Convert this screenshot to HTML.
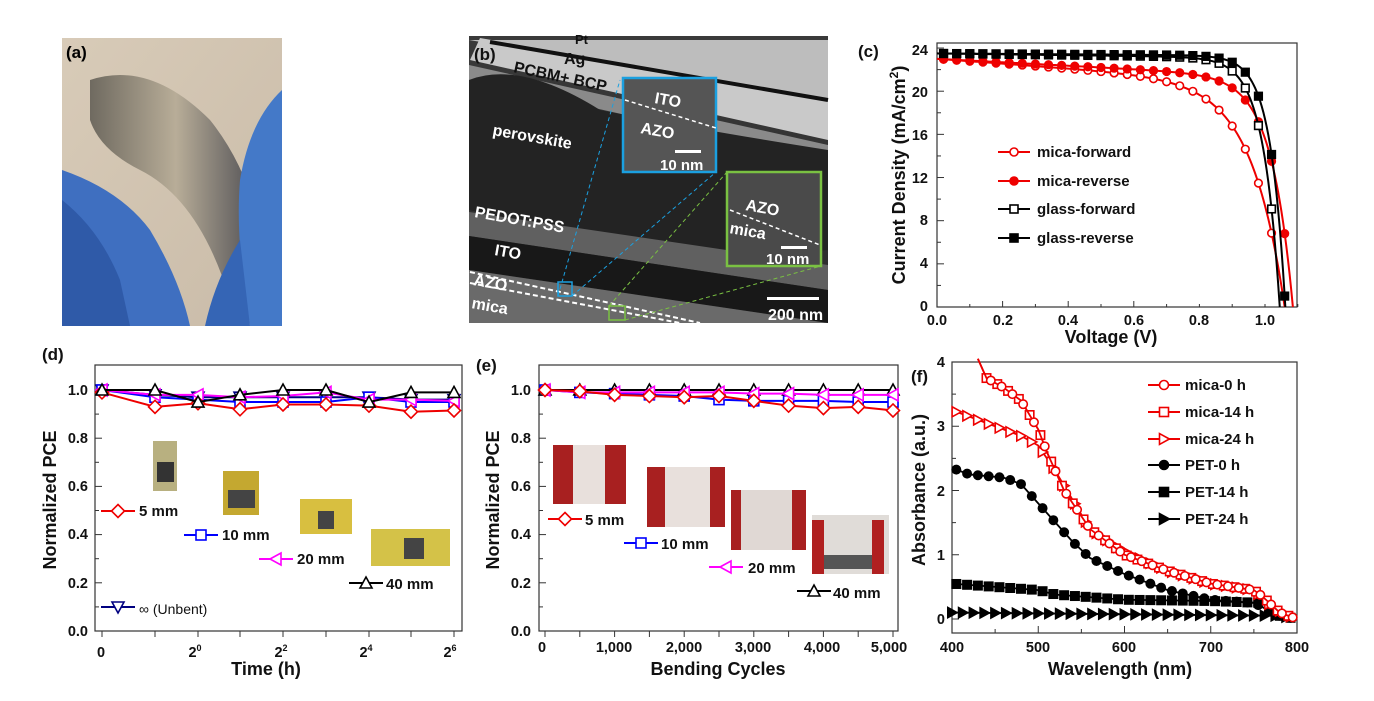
<!DOCTYPE html>
<html><head><meta charset="utf-8"><style>
html,body{margin:0;padding:0;background:#fff;}
svg{display:block;font-family:"Liberation Sans",Arial,sans-serif;font-weight:bold;}
</style></head><body>
<svg id="s" width="1374" height="701" viewBox="0 0 1374 701" xmlns="http://www.w3.org/2000/svg">
<defs>
<linearGradient id="bg" x1="0" y1="0" x2="1" y2="1"><stop offset="0" stop-color="#d8cbb8"/><stop offset="1" stop-color="#c9bba8"/></linearGradient>
<linearGradient id="film" x1="0" y1="0" x2="1" y2="0"><stop offset="0" stop-color="#6f6a60"/><stop offset="0.5" stop-color="#b8ad98"/><stop offset="1" stop-color="#4a4a50"/></linearGradient>
<linearGradient id="tem" x1="0" y1="0" x2="0" y2="1"><stop offset="0" stop-color="#3a3a3a"/><stop offset="1" stop-color="#2a2a2a"/></linearGradient>
</defs>
<!-- (a) photo -->
<rect x="62" y="38" width="220" height="288" fill="url(#bg)"/>
<path d="M90 80 Q150 60 210 120 Q250 170 262 240 L230 300 Q200 200 140 170 Q100 150 90 120Z" fill="url(#film)"/>
<path d="M62 170 Q120 190 150 230 Q180 280 190 326 L62 326Z" fill="#3f6fc0"/>
<path d="M62 200 Q100 230 120 280 L130 326 L62 326Z" fill="#2f5aa8"/>
<path d="M282 90 Q250 120 240 180 Q235 240 250 326 L282 326Z" fill="#4479c8"/>
<path d="M205 326 Q215 280 240 240 L250 326Z" fill="#3565b5"/>
<text x="66" y="58" font-size="17" fill="#000">(a)</text>
<!-- (b) TEM -->
<rect x="469" y="36" width="359" height="287" fill="url(#tem)"/>
<path d="M469 40 L828 40 L828 100 L469 40Z" fill="#bdbdbd"/>
<path d="M480 38 L828 98 L828 140 L470 60Z" fill="#c9c9c9"/>
<path d="M490 42 L828 100" stroke="#111" stroke-width="4"/>
<path d="M469 65 L828 145 L828 160 L469 80Z" fill="#8a8a8a"/>
<path d="M469 80 Q520 60 600 110 Q700 130 828 150 L828 250 Q700 260 640 240 Q560 230 469 210Z" fill="#232323"/>
<path d="M469 212 L828 265 L828 290 L469 236Z" fill="#606060"/>
<path d="M469 236 L828 290 L828 323 L469 270Z" fill="#181818"/>
<path d="M469 270 L828 323 L469 323Z" fill="#6a6a6a"/>
<path d="M470 272 L700 323 M470 283 L680 323" stroke="#fff" stroke-width="2" stroke-dasharray="5,3"/>
<rect x="623" y="78" width="93" height="94" fill="#555" stroke="#1ba0e0" stroke-width="2.5"/>
<path d="M625 100 L716 128" stroke="#fff" stroke-width="1.5" stroke-dasharray="4,3"/>
<rect x="727" y="172" width="94" height="94" fill="#4a4a4a" stroke="#7ac142" stroke-width="2.5"/>
<path d="M730 210 L820 245" stroke="#fff" stroke-width="1.5" stroke-dasharray="4,3"/>
<rect x="558" y="282" width="14" height="14" fill="none" stroke="#1ba0e0" stroke-width="1.5"/>
<rect x="609" y="306" width="16" height="14" fill="none" stroke="#7ac142" stroke-width="1.5"/>
<path d="M558 296 L620 80 M572 296 L716 172" stroke="#1ba0e0" stroke-width="1" stroke-dasharray="4,3"/>
<path d="M609 306 L727 172 M625 320 L821 266" stroke="#7ac142" stroke-width="1" stroke-dasharray="4,3"/>
<rect x="767" y="297" width="52" height="3" fill="#fff"/>
<g fill="#fff" font-size="16">
<text x="564" y="64" fill="#111">Ag</text>
<text x="575" y="44" fill="#111" font-size="13">Pt</text>
<text x="513" y="72" fill="#111" transform="rotate(12 513 72)">PCBM+ BCP</text>
<text x="492" y="135" transform="rotate(10 492 135)">perovskite</text>
<text x="474" y="217" transform="rotate(10 474 217)">PEDOT:PSS</text>
<text x="494" y="255" transform="rotate(10 494 255)">ITO</text>
<text x="473" y="285" transform="rotate(10 473 285)">AZO</text>
<text x="471" y="308" transform="rotate(10 471 308)">mica</text>
<text x="654" y="103" transform="rotate(10 654 103)">ITO</text>
<text x="640" y="133" transform="rotate(10 640 133)">AZO</text>
<rect x="675" y="150" width="26" height="3"/>
<text x="660" y="170" font-size="15">10 nm</text>
<text x="745" y="210" transform="rotate(10 745 210)">AZO</text>
<text x="729" y="233" transform="rotate(10 729 233)">mica</text>
<rect x="781" y="246" width="26" height="3"/>
<text x="766" y="264" font-size="15">10 nm</text>
<text x="768" y="320" font-size="16">200 nm</text>
</g>
<text x="474" y="60" font-size="17" fill="#111">(b)</text>
<!-- axes frames -->
<g fill="none" stroke="#333" stroke-width="1.2">
<rect x="937" y="43" width="360" height="264"/>
<rect x="95" y="365" width="367" height="266"/>
<rect x="539" y="365" width="359" height="266"/>
<rect x="952" y="362" width="345" height="271"/>
</g>
<g id="ticks" stroke="#333" stroke-width="1"></g>
<g id="data"></g>
<!-- photo insets (d) -->
<rect x="153" y="441" width="24" height="50" fill="#b8b080"/><rect x="157" y="462" width="17" height="20" fill="#333"/>
<rect x="223" y="471" width="36" height="44" fill="#c4a830"/><rect x="228" y="490" width="27" height="18" fill="#444"/>
<rect x="300" y="499" width="52" height="35" fill="#d8bf40"/><rect x="318" y="511" width="16" height="18" fill="#444"/>
<rect x="371" y="529" width="79" height="37" fill="#d4c248"/><rect x="404" y="538" width="20" height="21" fill="#444"/>
<!-- photo insets (e) -->
<rect x="553" y="445" width="73" height="59" fill="#e8e0dc"/><rect x="553" y="445" width="20" height="59" fill="#a82020"/><rect x="605" y="445" width="21" height="59" fill="#a82020"/>
<rect x="647" y="467" width="78" height="60" fill="#e8e0dc"/><rect x="647" y="467" width="18" height="60" fill="#a82020"/><rect x="710" y="467" width="15" height="60" fill="#a82020"/>
<rect x="731" y="490" width="75" height="60" fill="#e0d8d4"/><rect x="731" y="490" width="10" height="60" fill="#a82020"/><rect x="792" y="490" width="14" height="60" fill="#a82020"/>
<rect x="812" y="515" width="77" height="59" fill="#e0dcd8"/><rect x="812" y="520" width="12" height="54" fill="#b02020"/><rect x="872" y="520" width="12" height="54" fill="#b02020"/><rect x="824" y="555" width="48" height="14" fill="#555"/>
<!-- labels c -->
<g font-size="14.5" fill="#111">
<text x="928" y="55" text-anchor="end">24</text><text x="928" y="97" text-anchor="end">20</text><text x="928" y="140" text-anchor="end">16</text><text x="928" y="183" text-anchor="end">12</text><text x="928" y="225" text-anchor="end">8</text><text x="928" y="268" text-anchor="end">4</text><text x="928" y="311" text-anchor="end">0</text>
<g text-anchor="middle"><text x="937" y="325">0.0</text><text x="1003" y="325">0.2</text><text x="1068" y="325">0.4</text><text x="1134" y="325">0.6</text><text x="1199" y="325">0.8</text><text x="1265" y="325">1.0</text></g>
<text x="1111" y="343" font-size="18" text-anchor="middle">Voltage (V)</text>
<text transform="translate(905 175) rotate(-90)" font-size="18" text-anchor="middle">Current Density (mA/cm<tspan dy="-7" font-size="12">2</tspan><tspan dy="7">)</tspan></text>
<text x="858" y="57" font-size="17">(c)</text>
<g font-size="15"><text x="1037" y="157">mica-forward</text><text x="1037" y="186">mica-reverse</text><text x="1037" y="214">glass-forward</text><text x="1037" y="243">glass-reverse</text></g>
</g>
<!-- labels d -->
<g font-size="14.5" fill="#111">
<g text-anchor="end"><text x="88" y="395">1.0</text><text x="88" y="443">0.8</text><text x="88" y="491">0.6</text><text x="88" y="539">0.4</text><text x="88" y="588">0.2</text><text x="88" y="636">0.0</text></g>
<g text-anchor="middle"><text x="101" y="657">0</text><text x="195" y="657">2<tspan font-size="9" dy="-6">0</tspan></text><text x="281" y="657">2<tspan font-size="9" dy="-6">2</tspan></text><text x="366" y="657">2<tspan font-size="9" dy="-6">4</tspan></text><text x="450" y="657">2<tspan font-size="9" dy="-6">6</tspan></text></g>
<text x="266" y="675" font-size="18" text-anchor="middle">Time (h)</text>
<text transform="translate(56 500) rotate(-90)" font-size="18" text-anchor="middle">Normalized PCE</text>
<text x="42" y="360" font-size="17">(d)</text>
<g font-size="15"><text x="139" y="516">5 mm</text><text x="222" y="540">10 mm</text><text x="297" y="564">20 mm</text><text x="386" y="589">40 mm</text><text x="139" y="614" font-weight="normal" font-size="14">∞ (Unbent)</text></g>
</g>
<!-- labels e -->
<g font-size="14.5" fill="#111">
<g text-anchor="end"><text x="531" y="395">1.0</text><text x="531" y="443">0.8</text><text x="531" y="491">0.6</text><text x="531" y="539">0.4</text><text x="531" y="588">0.2</text><text x="531" y="636">0.0</text></g>
<g text-anchor="middle"><text x="542" y="652">0</text><text x="614" y="652">1,000</text><text x="684" y="652">2,000</text><text x="753" y="652">3,000</text><text x="822" y="652">4,000</text><text x="889" y="652">5,000</text></g>
<text x="718" y="675" font-size="18" text-anchor="middle">Bending Cycles</text>
<text transform="translate(499 500) rotate(-90)" font-size="18" text-anchor="middle">Normalized PCE</text>
<text x="476" y="371" font-size="17">(e)</text>
<g font-size="15"><text x="585" y="525">5 mm</text><text x="661" y="549">10 mm</text><text x="748" y="573">20 mm</text><text x="833" y="598">40 mm</text></g>
</g>
<!-- labels f -->
<g font-size="14.5" fill="#111">
<g text-anchor="end"><text x="945" y="367">4</text><text x="945" y="431">3</text><text x="945" y="496">2</text><text x="945" y="560">1</text><text x="945" y="624">0</text></g>
<g text-anchor="middle"><text x="952" y="652">400</text><text x="1038" y="652">500</text><text x="1124" y="652">600</text><text x="1211" y="652">700</text><text x="1297" y="652">800</text></g>
<text x="1120" y="675" font-size="18" text-anchor="middle">Wavelength (nm)</text>
<text transform="translate(925 490) rotate(-90)" font-size="18" text-anchor="middle">Absorbance (a.u.)</text>
<text x="911" y="382" font-size="17">(f)</text>
<g font-size="15"><text x="1185" y="390">mica-0 h</text><text x="1185" y="417">mica-14 h</text><text x="1185" y="444">mica-24 h</text><text x="1185" y="470">PET-0 h</text><text x="1185" y="497">PET-14 h</text><text x="1185" y="524">PET-24 h</text></g>
</g>
</svg>
<script>
const NS="http://www.w3.org/2000/svg",D=document.getElementById('data'),T=document.getElementById('ticks');
function el(t,a,p){const e=document.createElementNS(NS,t);for(const k in a)e.setAttribute(k,a[k]);(p||D).appendChild(e);return e;}
function line(pts,c,w){el('polyline',{points:pts.map(p=>p.join(',')).join(' '),fill:'none',stroke:c,'stroke-width':w||2});}
function mk(x,y,type,c,fill,s){s=s||4.5;const f=fill?c:'#fff';const a={stroke:c,'stroke-width':1.6,fill:f};
 if(type=='o'){a.cx=x;a.cy=y;a.r=s;el('circle',a);}
 else if(type=='s'){a.x=x-s;a.y=y-s;a.width=2*s;a.height=2*s;el('rect',a);}
 else {let p;if(type=='d')p=[[x,y-s*1.3],[x+s*1.3,y],[x,y+s*1.3],[x-s*1.3,y]];
 if(type=='u')p=[[x,y-s*1.2],[x+s*1.2,y+s],[x-s*1.2,y+s]];
 if(type=='v')p=[[x,y+s*1.2],[x+s*1.2,y-s],[x-s*1.2,y-s]];
 if(type=='l')p=[[x-s*1.2,y],[x+s,y-s*1.2],[x+s,y+s*1.2]];
 if(type=='r')p=[[x+s*1.2,y],[x-s,y-s*1.2],[x-s,y+s*1.2]];
 a.points=p.map(q=>q.join(',')).join(' ');el('polygon',a);}}
// ticks
for(let v=0;v<=1.1;v+=0.1){const x=937+v*328;el('line',{x1:x,y1:307,x2:x,y2:v*10%2<0.5?301:304},T);}
for(let j=0;j<=24;j+=2){const y=307-j*10.79;el('line',{x1:937,y1:y,x2:j%4?941:944,y2:y},T);}
[[95,365,631,102,[102,155,198,240,283,326,369,411,454]],[539,365,631,545,null]].forEach(([x0,y0,y1,_,xs])=>{
 for(let v=0;v<=1;v+=0.1){const y=631-v*241;el('line',{x1:x0,y1:y,x2:x0+(Math.round(v*10)%2?4:7),y2:y},T);}
 const X=xs||[...Array(11)].map((_,i)=>545+i*34.8);X.forEach(x=>el('line',{x1:x,y1:631,x2:x,y2:637},T));});
for(let l=400;l<=800;l+=50){const x=952+(l-400)*0.8625;el('line',{x1:x,y1:633,x2:x,y2:l%100?629:626},T);}
for(let a=0;a<=4;a+=0.5){const y=619-a*64.25;el('line',{x1:952,y1:y,x2:a%1?956:959,y2:y},T);}
// (c)
const cx=v=>937+v*328,cy=j=>307-j*10.79;
[[23,1.06,0.1,2.2,'#e00','o',0],[23,1.085,0.065,1.6,'#e00','o',1],[23.5,1.045,0.05,0.4,'#000','s',0],[23.5,1.062,0.045,0.2,'#000','s',1]].forEach(([js,voc,n,sl,c,t,f])=>{
 const J=v=>(js-sl*v)*(1-(Math.exp(v/n)-1)/(Math.exp(voc/n)-1));const pts=[];
 for(let v=0;v<=voc;v+=0.005)pts.push([cx(v),cy(J(v))]);pts.push([cx(voc),cy(0)]);line(pts,c,2);
 for(let v=0.02;v<voc;v+=0.04)if(J(v)>0.3)mk(cx(v),cy(J(v)),t,c,f,3.8);});
[[157,'#e00','o',0],[186,'#e00','o',1],[214,'#000','s',0],[243,'#000','s',1]].forEach(([y,c,t,f])=>{line([[998,y-5],[1030,y-5]],c,2);mk(1014,y-5,t,c,f,4);});
// (d)
const dx=[102,155,198,240,283,326,369,411,454],py=v=>631-v*241;
[[[1,0.98,0.97,0.97,0.97,0.97,0.97,0.96,0.96],'#000080','v'],[[1,0.97,0.96,0.95,0.95,0.95,0.97,0.95,0.95],'#00f','s'],[[1,0.98,0.98,0.97,0.975,0.99,0.96,0.96,0.955],'#f0f','l'],[[0.99,0.93,0.945,0.92,0.94,0.94,0.935,0.91,0.915],'#e00','d'],[[1,1,0.95,0.98,1,1,0.95,0.99,0.99],'#000','u']].forEach(([d,c,t])=>{
 line(d.map((v,i)=>[dx[i],py(v)]),c,2);d.forEach((v,i)=>mk(dx[i],py(v),t,c,0,5));});
[[511,'#e00','d',101],[535,'#00f','s',184],[559,'#f0f','l',259],[583,'#000','u',349],[607,'#000080','v',101]].forEach(([y,c,t,x])=>{line([[x,y],[x+34,y]],c,2);mk(x+17,y,t,c,0,5);});
// (e)
const ex=i=>545+i*34.8;
[[[1,0.99,0.985,0.98,0.975,0.96,0.955,0.955,0.955,0.95,0.95],'#00f','s'],[[1,1,1,1,1,1,1,1,1,1,1],'#000','u'],[[1,0.99,0.99,0.99,0.99,0.99,0.985,0.985,0.98,0.98,0.98],'#f0f','l'],[[1,0.995,0.98,0.975,0.97,0.975,0.955,0.935,0.925,0.93,0.915],'#e00','d']].forEach(([d,c,t])=>{
 line(d.map((v,i)=>[ex(i),py(v)]),c,2);d.forEach((v,i)=>mk(ex(i),py(v),t,c,0,5));});
[[519,'#e00','d',548],[543,'#00f','s',624],[567,'#f0f','l',709],[591,'#000','u',797]].forEach(([y,c,t,x])=>{line([[x,y],[x+34,y]],c,2);mk(x+17,y,t,c,0,5);});
// (f)
const fx=l=>952+(l-400)*0.8625,fy=a=>619-a*64.25;
function interp(P,l){for(let i=0;i<P.length-1;i++)if(l>=P[i][0]&&l<=P[i+1][0]){const t=(l-P[i][0])/(P[i+1][0]-P[i][0]);return P[i][1]+t*(P[i+1][1]-P[i][1]);}return null;}
const MH=[[430,4.2],[440,3.75],[460,3.6],[480,3.4],[500,2.95],[510,2.6],[530,2.0],[560,1.4],[600,1.0],[650,0.75],[700,0.55],[750,0.45],[760,0.35],[780,0.1],[800,0]];
const M24=[[400,3.25],[450,3.0],[480,2.85],[500,2.7],[520,2.3],[540,1.85],[560,1.4],[600,1.05],[650,0.75],[700,0.55],[750,0.45],[770,0.2],[790,0.05],[800,0]];
const P0=[[400,2.35],[420,2.25],[460,2.2],[480,2.1],[500,1.8],[520,1.5],[540,1.2],[560,0.95],[600,0.7],[650,0.45],[700,0.3],[750,0.25],[780,0.05],[800,0]];
const P14=[[400,0.55],[500,0.45],[520,0.38],[600,0.3],[700,0.28],[760,0.25],[780,0.05],[800,0]];
const P24=[[400,0.1],[780,0.05],[800,0]];
[[P24,'#000','r',1,400],[P14,'#000','s',1,405],[P0,'#000','o',1,405],[M24,'#e00','r',0,405],[MH,'#e00','s',0,440],[MH,'#e00','o',0,445]].forEach(([P,c,t,f,st])=>{
 line(P.map(p=>[fx(p[0]),fy(Math.min(p[1],4.05))]),c,1.8);
 for(let l=st;l<=795;l+=12.5){const a=interp(P,l);if(a!==null&&a<=3.95)mk(fx(l),fy(a),t,c,f,4.2);}});
[[385,'#e00','o',0],[412,'#e00','s',0],[439,'#e00','r',0],[465,'#000','o',1],[492,'#000','s',1],[519,'#000','r',1]].forEach(([y,c,t,f])=>{line([[1148,y],[1180,y]],c,2);mk(1164,y,t,c,f,4.5);});
</script>
</body></html>
